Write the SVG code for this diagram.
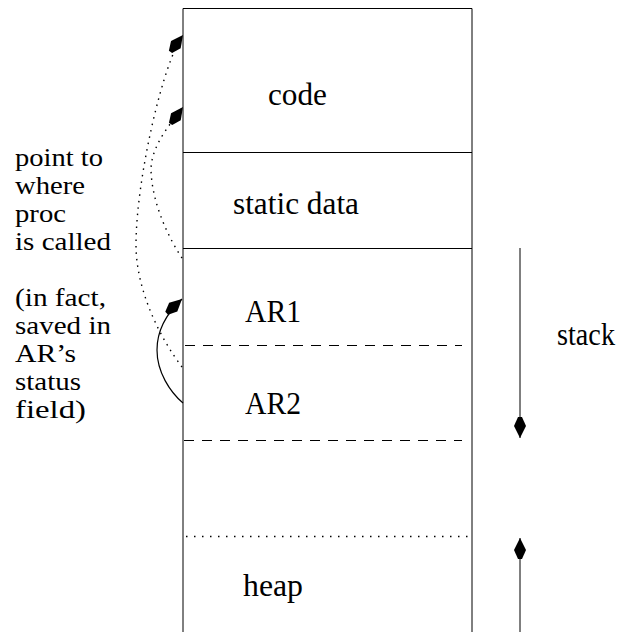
<svg xmlns="http://www.w3.org/2000/svg" width="626" height="632" viewBox="0 0 626 632">
  <style>
    text { font-family: "Liberation Serif", "Times New Roman", serif; fill: #000; }
    .label { font-size: 31px; }
    .note { font-size: 26px; }
    .wall { stroke: #000; stroke-width: 1; fill: none; }
    .solid { stroke: #000; stroke-width: 1.2; fill: none; }
    .dash { stroke: #000; stroke-width: 1.2; stroke-dasharray: 10 8; fill: none; }
    .dot { stroke: #000; stroke-width: 1.5; stroke-dasharray: 1.5 6.5; fill: none; }
    .link { stroke: #000; stroke-width: 1.4; stroke-dasharray: 1.5 5; fill: none; }
    .curve { stroke: #000; stroke-width: 1.2; fill: none; }
    .growth { stroke: #000; stroke-width: 1; fill: none; }
  </style>
  <defs>
    <marker id="head" markerUnits="userSpaceOnUse" orient="auto" refX="0" refY="0" markerWidth="30" markerHeight="30" viewBox="-25 -10 30 20" overflow="visible">
      <path d="M0,0 L-12,-6 L-21,-2 L-21,2 L-12,6 Z" fill="#000" stroke="none"/>
    </marker>
  </defs>

  <rect width="626" height="632" fill="#fff"/>

  <!-- memory layout column -->
  <g id="memory">
    <path class="wall" d="M183,632 V8.5 H472 V632"/>
    <line class="solid" x1="183" y1="152.5" x2="472" y2="152.5"/>
    <line class="solid" x1="183" y1="248.5" x2="472" y2="248.5"/>
    <line class="dash" x1="185" y1="345.5" x2="462" y2="345.5"/>
    <line class="dash" x1="184" y1="440.5" x2="462" y2="440.5"/>
    <line class="dot" x1="186" y1="536.5" x2="470" y2="536.5"/>
  </g>

  <g id="code"><text class="label" x="268" y="105" textLength="59" lengthAdjust="spacingAndGlyphs">code</text></g>
  <g id="static-data"><text class="label" x="233" y="214" textLength="126" lengthAdjust="spacingAndGlyphs">static data</text></g>
  <g id="ar1"><text class="label" x="245" y="322" textLength="56" lengthAdjust="spacingAndGlyphs">AR1</text></g>
  <g id="ar2"><text class="label" x="245" y="414" textLength="56" lengthAdjust="spacingAndGlyphs">AR2</text></g>
  <g id="heap"><text class="label" x="243" y="596" textLength="60" lengthAdjust="spacingAndGlyphs">heap</text></g>
  <g id="stack"><text class="label" x="557" y="345" textLength="58" lengthAdjust="spacingAndGlyphs">stack</text></g>

  <g id="note">
    <text class="note" x="15" y="166" textLength="88" lengthAdjust="spacingAndGlyphs">point to</text>
    <text class="note" x="15" y="194" textLength="70" lengthAdjust="spacingAndGlyphs">where</text>
    <text class="note" x="15" y="222" textLength="51" lengthAdjust="spacingAndGlyphs">proc</text>
    <text class="note" x="15" y="250" textLength="96" lengthAdjust="spacingAndGlyphs">is called</text>
    <text class="note" x="15" y="306" textLength="91" lengthAdjust="spacingAndGlyphs">(in fact,</text>
    <text class="note" x="15" y="334" textLength="96" lengthAdjust="spacingAndGlyphs">saved in</text>
    <text class="note" x="15" y="362" textLength="61" lengthAdjust="spacingAndGlyphs">AR’s</text>
    <text class="note" x="15" y="390" textLength="66" lengthAdjust="spacingAndGlyphs">status</text>
    <text class="note" x="15" y="418" textLength="71" lengthAdjust="spacingAndGlyphs">field)</text>
  </g>

  <!-- return links and growth directions -->
  <g id="connectors">
    <path class="link" d="M182,367 C160,338 136,290 136,245 C136,180 163,62 183,35" marker-end="url(#head)"/>
    <path class="link" d="M182,258 C170,240 152,205 151,170 C151,145 172,122 183,107" marker-end="url(#head)"/>
    <path class="curve" d="M183,403 C170,392 157,372 157,350 C157,330 167,313 182,299" marker-end="url(#head)"/>
    <line class="growth" x1="520" y1="248" x2="520" y2="438" marker-end="url(#head)"/>
    <line class="growth" x1="520" y1="632" x2="520" y2="538" marker-end="url(#head)"/>
  </g>
</svg>
